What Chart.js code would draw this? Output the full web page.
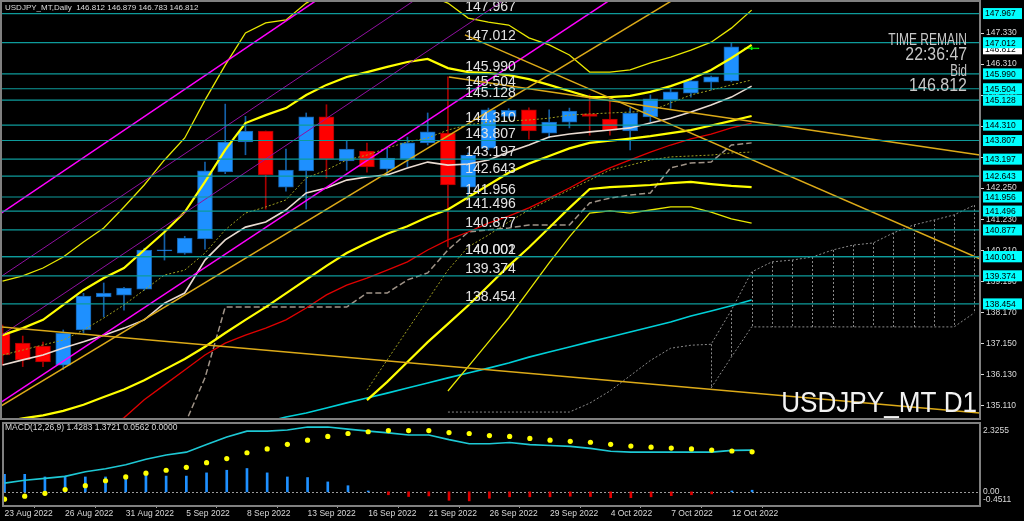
<!DOCTYPE html>
<html>
<head>
<meta charset="utf-8">
<script src="https://cdn.jsdelivr.net/npm/chart.js@4.4.0/dist/chart.umd.min.js"></script>
<style>
  html, body { margin: 0; padding: 0; background: #000; }
  #wrap { position: relative; width: 1024px; height: 521px; background: #000; overflow: hidden; }
  #main { position: absolute; left: 0; top: 0; }
  #macd { position: absolute; left: 0; top: 420px; }
</style>
</head>
<body>
<div id="wrap">
  <canvas id="main" width="1024" height="420"></canvas>
  <canvas id="macd" width="1024" height="101"></canvas>
</div>
<script>
// ---- data (bar index 0 = 23 Aug 2022, 37 = current bar) ----
const dateLabels = ['23 Aug 2022', '26 Aug 2022', '31 Aug 2022', '5 Sep 2022', '8 Sep 2022', '13 Sep 2022',
  '16 Sep 2022', '21 Sep 2022', '26 Sep 2022', '29 Sep 2022', '4 Oct 2022', '7 Oct 2022', '12 Oct 2022'];

const opens  = [137.50,137.17,137.07,136.45,137.60,138.68,138.74,138.94,140.19,140.12,140.58,142.78,143.76,144.12,142.28,142.81,144.58,143.14,143.46,142.87,143.20,143.73,144.05,142.28,143.56,144.60,144.81,144.05,144.41,144.68,144.51,144.12,144.58,145.13,145.36,145.72,145.76,146.812];
const highs  = [137.76,137.40,137.20,137.60,138.80,139.14,139.00,140.28,140.87,140.67,143.10,145.00,144.60,144.12,143.53,144.71,144.98,143.79,143.72,143.59,143.92,144.71,145.89,143.40,144.87,144.85,144.88,144.81,144.87,145.30,145.20,144.88,145.30,145.50,145.82,145.92,147.00,146.879];
const lows   = [136.45,136.40,136.40,136.30,137.50,138.03,138.25,138.90,139.89,140.08,140.25,142.72,143.34,141.56,142.15,141.56,142.58,142.83,142.77,142.68,142.94,143.66,140.32,141.96,143.50,144.55,143.85,143.89,144.22,143.98,143.98,143.50,144.42,144.86,145.23,145.46,145.73,146.783];
const closes = [136.78,136.62,136.55,137.50,138.71,138.81,138.97,140.22,140.22,140.61,142.81,143.76,144.12,142.68,142.84,144.58,143.20,143.53,142.94,143.23,143.73,144.09,142.35,143.33,144.81,144.80,144.12,144.41,144.77,144.60,144.15,144.71,145.17,145.40,145.76,145.89,146.88,146.812];

// Bollinger style bands (middle, +/-2, +/-3)
const bandUp3  = [139.20,139.37,139.63,139.99,140.48,140.94,141.63,142.35,143.17,143.89,145.13,146.28,147.33,147.66,147.76,148.31,148.67,148.74,148.80,148.74,148.67,148.57,148.31,147.82,147.69,147.59,147.17,146.94,146.61,146.05,146.05,146.12,146.35,146.54,146.77,147.03,147.49,148.08];
const bandUp2  = [137.43,137.66,137.93,138.42,138.91,139.30,139.63,140.22,140.81,141.46,142.45,143.50,144.38,144.64,144.87,145.30,145.63,145.89,146.05,146.22,146.38,146.48,146.18,146.05,146.02,145.95,145.82,145.63,145.43,145.23,145.23,145.27,145.40,145.59,145.82,146.12,146.51,146.94];
const bandMid  = [134.60,134.70,134.80,134.95,135.15,135.40,135.65,135.95,136.30,136.65,137.05,137.50,137.93,138.35,138.80,139.25,139.70,140.12,140.45,140.75,141.00,141.30,141.55,141.95,142.35,142.75,143.05,143.30,143.55,143.73,143.80,143.87,143.95,144.05,144.15,144.30,144.45,144.61];
const bandDn2  = [null,null,null,null,null,null,null,null,null,null,null,null,null,null,null,null,null,null,135.30,135.90,136.55,137.20,137.80,138.40,139.05,139.70,140.30,140.95,141.60,142.22,142.28,142.31,142.35,142.41,142.45,142.38,142.32,142.28];
const bandDn3  = [null,null,null,null,null,null,null,null,null,null,null,null,null,null,null,null,null,null,null,null,null,null,135.60,136.40,137.20,138.00,138.90,139.80,140.65,141.43,141.50,141.43,141.53,141.63,141.63,141.46,141.24,141.10];

// moving averages / ichimoku lines
const smaWhite = [136.45,136.62,136.78,137.01,137.21,137.43,137.66,137.93,138.48,138.81,139.89,140.55,140.97,141.14,141.53,142.09,142.25,142.51,142.61,142.68,142.91,143.10,143.00,143.04,143.17,143.43,143.66,143.92,144.02,144.09,144.15,144.22,144.38,144.54,144.74,144.97,145.23,145.59];
const tenkan   = [136.78,136.94,137.11,137.27,137.60,137.99,138.42,138.91,139.40,139.56,140.12,140.88,141.43,141.63,141.86,142.58,142.84,143.17,143.33,143.56,143.76,143.89,144.15,144.32,144.41,144.45,144.48,144.54,144.64,144.68,144.71,144.74,144.77,145.04,145.30,145.46,145.63,145.79];
const kijun    = [null,null,null,null,null,null,null,null,null,134.50,136.03,138.35,138.35,138.35,138.35,138.35,138.35,138.35,138.81,138.81,139.24,139.47,140.22,140.81,140.88,140.94,141.04,141.04,141.04,141.76,141.92,142.02,142.09,142.91,143.07,143.10,143.66,143.73];
const slowDots = [null,null,null,null,null,null,null,null,null,null,null,null,null,null,null,null,null,null,135.63,136.62,137.60,138.58,139.56,140.32,140.71,141.14,141.53,141.86,142.19,142.51,142.84,143.00,143.17,143.27,143.30,143.33,143.40,143.43];
const smaRed   = [null,null,null,null,null,134.40,134.72,135.31,135.80,136.29,136.78,137.17,137.43,137.66,137.93,138.32,138.75,139.07,139.30,139.56,139.83,140.22,140.55,140.81,141.10,141.33,141.60,141.92,142.25,142.61,142.91,143.17,143.43,143.66,143.86,144.02,144.22,144.38];
const smaCyan  = [null,null,null,null,null,null,null,null,null,null,null,null,null,134.58,134.75,134.88,135.04,135.21,135.37,135.53,135.70,135.86,136.03,136.19,136.35,136.52,136.71,136.88,137.04,137.21,137.37,137.53,137.70,137.86,138.06,138.22,138.39,138.58];

// cloud, shifted 11 bars past the last candle (index 0..48)
const spanA = [null,null,null,null,null,null,null,null,null,null,null,null,null,null,null,null,null,null,null,null,null,null,
  134.91,134.91,134.91,134.91,134.91,134.91,134.91,135.20,135.60,136.10,136.60,137.00,137.10,
  137.13,138.25,139.50,139.83,139.89,139.99,140.22,140.38,140.45,140.78,141.04,141.20,141.37,141.69];
const spanB = [null,null,null,null,null,null,null,null,null,null,null,null,null,null,null,null,null,null,null,null,null,null,
  null,null,null,null,null,null,null,null,null,null,null,null,null,
  135.70,136.71,137.70,137.70,137.70,137.70,137.70,137.70,137.70,137.70,137.70,137.70,137.70,138.16];

// drawn trend lines: [bar1, price1, bar2, price2]
const goldLines = [
  [-0.12, 137.70, 48.27, 134.88],
  [22.05, 145.89, 48.27, 143.33],
  [22.84, 147.27, 48.27, 139.93],
  [-0.12, 135.09, 33.11, 148.41]
];
const magentaLines = [
  [-0.12, 141.40, 15.53, 148.41],
  [-0.12, 135.21, 30.00, 148.41]
];
const purpleLines = [
  [-0.12, 139.33, 20.37, 148.41],
  [-0.12, 137.40, 24.77, 148.41]
];

// horizontal price levels
const levelPrices = [147.967, 147.012, 145.990, 145.504, 145.128, 144.310, 143.807, 143.197,
  142.643, 141.956, 141.496, 140.877, 140.002, 140.001, 139.374, 138.454];
const bidPrice = 146.812;
const priceTicks = [147.33, 146.31, 145.29, 144.27, 143.25, 142.25, 141.23, 140.21, 139.19, 138.17, 137.15, 136.13, 135.11];

// MACD(12,26,9)
const macdMain   = [0.30,0.40,0.46,0.53,0.69,0.79,0.93,1.12,1.26,1.36,1.62,1.88,2.08,2.08,2.12,2.22,2.22,2.15,2.08,2.02,1.95,1.95,1.79,1.65,1.65,1.69,1.62,1.59,1.56,1.49,1.39,1.36,1.36,1.36,1.36,1.36,1.42,1.4283];
const macdSignal = [-0.25,-0.15,-0.05,0.08,0.21,0.38,0.51,0.64,0.74,0.84,1.00,1.14,1.34,1.47,1.63,1.77,1.90,2.00,2.06,2.10,2.10,2.10,2.03,2.00,1.93,1.90,1.83,1.77,1.73,1.70,1.63,1.57,1.53,1.50,1.47,1.43,1.40,1.3721];
const macdHist   = [0.60,0.60,0.51,0.54,0.51,0.51,0.49,0.65,0.54,0.54,0.65,0.74,0.80,0.65,0.51,0.49,0.34,0.21,0.03,-0.10,-0.16,-0.14,-0.29,-0.31,-0.22,-0.17,-0.17,-0.17,-0.15,-0.16,-0.20,-0.20,-0.17,-0.13,-0.10,-0.07,0.03,0.0562];
const macdMax = 2.3255, macdMin = -0.4511;

// ---- chart setup ----
const FONT = '"Liberation Sans", Arial, sans-serif';
const X_MIN = -0.025, X_MAX = 48.28;
const Y_MIN = 134.715, Y_MAX = 148.346;

const pts = arr => arr.map((v, i) => ({ x: i, y: v }));

function line(arr, color, width, dash, order) {
    return {
        type: 'line', data: pts(arr), borderColor: color, borderWidth: width,
        borderDash: dash || [], pointRadius: 0, fill: false, tension: 0,
        spanGaps: false, order: order
    };
}

function segment(s, color, width) {
    return {
        type: 'line', data: [{ x: s[0], y: s[1] }, { x: s[2], y: s[3] }],
        borderColor: color, borderWidth: width, pointRadius: 0, fill: false, order: 2
    };
}

const candleColor = i => closes[i] > opens[i] ? '#1e90ff' : (closes[i] < opens[i] ? '#ff0000' : '#00ff00');
const candleEdge = i => closes[i] > opens[i] ? '#1460a8' : (closes[i] < opens[i] ? '#a80000' : '#00ff00');

const framePlugin = {
    id: 'frame',
    afterDraw(chart) {
        const { ctx, chartArea: a } = chart;
        ctx.save();
        ctx.strokeStyle = '#808080';
        ctx.lineWidth = 2;
        ctx.strokeRect(a.left - 1, a.top - 1, a.right - a.left + 1, a.bottom - a.top + 2);
        ctx.restore();
    }
};

const levelPlugin = {
    id: 'levels',
    afterDatasetsDraw(chart) {
        const { ctx, chartArea: a, scales: { x, y } } = chart;
        ctx.save();
        ctx.beginPath();
        ctx.rect(a.left, a.top, a.right - a.left, a.bottom - a.top);
        ctx.clip();
        ctx.strokeStyle = '#0e9b9b';
        ctx.lineWidth = 1.2;
        levelPrices.forEach(p => {
            const py = y.getPixelForValue(p);
            ctx.beginPath(); ctx.moveTo(a.left, py); ctx.lineTo(a.right, py); ctx.stroke();
        });
        // price text objects
        ctx.fillStyle = '#e2e2e2';
        ctx.font = '14px ' + FONT;
        ctx.textBaseline = 'alphabetic';
        const tx = x.getPixelForValue(22.85);
        levelPrices.forEach(p => {
            ctx.fillText(p.toFixed(3), tx, y.getPixelForValue(p) - 3);
        });
        ctx.restore();
    },
    afterDraw(chart) {
        const { ctx, scales: { y } } = chart;
        ctx.save();
        ctx.font = '8.5px ' + FONT;
        ctx.textBaseline = 'middle';
        const bx = y.left + 3, bw = 39;
        const box = (p, bg) => {
            const py = y.getPixelForValue(p);
            ctx.fillStyle = bg;
            ctx.fillRect(bx, py - 5.5, bw, 11);
            ctx.fillStyle = '#000';
            ctx.fillText(p.toFixed(3), bx + 2, py + 0.5);
        };
        box(bidPrice, '#ffffff');
        levelPrices.forEach(p => box(p, '#00ffff'));
        ctx.restore();
    }
};

const cloudPlugin = {
    id: 'cloud',
    beforeDatasetsDraw(chart) {
        const { ctx, chartArea: a, scales: { x, y } } = chart;
        ctx.save();
        ctx.beginPath();
        ctx.rect(a.left, a.top, a.right - a.left, a.bottom - a.top);
        ctx.clip();
        ctx.strokeStyle = '#8a8a8a';
        ctx.lineWidth = 1;
        ctx.setLineDash([2, 2]);
        spanA.forEach((v, i) => {
            if (v === null || spanB[i] === null) return;
            const px = Math.round(x.getPixelForValue(i)) + 0.5;
            ctx.beginPath();
            ctx.moveTo(px, y.getPixelForValue(v));
            ctx.lineTo(px, y.getPixelForValue(spanB[i]));
            ctx.stroke();
        });
        ctx.restore();
    }
};

function condensed(ctx, text, xr, yb, size, sx) {
    ctx.save();
    ctx.translate(xr, yb);
    ctx.scale(sx, 1);
    ctx.font = size + 'px ' + FONT;
    ctx.textAlign = 'right';
    ctx.fillText(text, 0, 0);
    ctx.restore();
}

const textPlugin = {
    id: 'texts',
    afterDraw(chart) {
        const ctx = chart.ctx;
        const n = opens.length - 1;
        ctx.save();
        ctx.fillStyle = '#dcdcdc';
        ctx.font = '8px ' + FONT;
        ctx.textBaseline = 'alphabetic';
        ctx.fillText('USDJPY_MT,Daily  ' + [opens[n], highs[n], lows[n], closes[n]].map(v => v.toFixed(3)).join(' '), 5, 10);
        ctx.fillStyle = '#c8c8c8';
        condensed(ctx, 'TIME REMAIN', 967, 45, 16, 0.75);
        condensed(ctx, '22:36:47', 967, 60, 18, 0.88);
        condensed(ctx, 'Bid', 967, 76, 16, 0.72);
        condensed(ctx, bidPrice.toFixed(3), 967, 91, 18, 0.89);
        ctx.fillStyle = '#f2f2f2';
        condensed(ctx, 'USDJPY_MT D1', 977, 412, 30, 0.87);
        ctx.restore();
    }
};

const mainDatasets = [
    // candles
    {
        type: 'bar', data: highs.map((h, i) => ({ x: i, y: [lows[i], h] })),
        backgroundColor: highs.map((h, i) => candleEdge(i)), barThickness: 1,
        grouped: false, order: 21
    },
    {
        type: 'bar', data: opens.map((o, i) => ({ x: i, y: [o, closes[i]] })),
        backgroundColor: opens.map((o, i) => candleColor(i)),
        borderColor: opens.map((o, i) => candleEdge(i)), borderWidth: 1, borderSkipped: false,
        barThickness: 15, minBarLength: 1, grouped: false, order: 20
    },
    // indicators
    line(smaCyan, '#00d0d8', 1.6, null, 12),
    line(spanA, '#8a8a8a', 1, [2, 2], 12),
    line(spanB, '#8a8a8a', 1, [2, 2], 12),
    line(kijun, '#a09488', 1.5, [6, 3], 11),
    line(slowDots, '#a0a020', 1, [2, 2], 11),
    line(tenkan, '#a0a020', 1, [2, 2], 11),
    line(smaRed, '#e00000', 1.3, null, 10),
    line(smaWhite, '#eadcd2', 1.6, null, 9),
    line(bandMid, '#ffff00', 2.2, null, 8),
    line(bandUp2, '#ffff00', 2.2, null, 8),
    line(bandDn2, '#ffff00', 2.2, null, 8),
    line(bandUp3, '#e8e800', 1.3, null, 8),
    line(bandDn3, '#e8e800', 1.3, null, 8),
    ...goldLines.map(s => segment(s, '#dcaa18', 1.5)),
    ...magentaLines.map(s => segment(s, '#ff00ff', 1.5)),
    ...purpleLines.map(s => segment(s, '#9010a0', 1))
];

new Chart(document.getElementById('main'), {
    type: 'bar',
    data: { datasets: mainDatasets },
    options: {
        responsive: false,
        animation: false,
        layout: { padding: { left: 2, top: 2, right: 0, bottom: 2 } },
        plugins: { legend: { display: false }, tooltip: { enabled: false } },
        scales: {
            x: { type: 'linear', min: X_MIN, max: X_MAX, offset: false, display: false },
            y: {
                position: 'right', min: Y_MIN, max: Y_MAX,
                afterBuildTicks: s => { s.ticks = priceTicks.map(v => ({ value: v })); },
                afterFit: s => { s.width = 44; s.paddingTop = 0; s.paddingBottom = 0; },
                ticks: { color: '#d8d8d8', padding: 2, font: { family: FONT, size: 8.5 }, callback: v => v.toFixed(3) },
                grid: { drawOnChartArea: false, drawTicks: true, tickLength: 4, color: '#d8d8d8' },
                border: { color: '#808080', width: 1 }
            }
        }
    },
    plugins: [cloudPlugin, levelPlugin, framePlugin, textPlugin]
});

// ---- MACD panel ----
const macdPlugin = {
    id: 'macdExtras',
    beforeDatasetsDraw(chart) {
        const { ctx, chartArea: a, scales: { y } } = chart;
        ctx.save();
        ctx.strokeStyle = '#9a9a9a';
        ctx.lineWidth = 1;
        ctx.setLineDash([2, 2]);
        const py = Math.round(y.getPixelForValue(0)) + 0.5;
        ctx.beginPath(); ctx.moveTo(a.left, py); ctx.lineTo(a.right, py); ctx.stroke();
        ctx.restore();
    },
    afterDraw(chart) {
        const { ctx, scales: { y } } = chart;
        ctx.save();
        ctx.fillStyle = '#d8d8d8';
        ctx.font = '8.5px ' + FONT;
        ctx.textBaseline = 'alphabetic';
        const n = macdMain.length - 1;
        ctx.fillText('MACD(12,26,9) ' + macdMain[n].toFixed(4) + ' ' + macdSignal[n].toFixed(4) + ' ' +
            macdHist[n].toFixed(4) + ' 0.0000', 5, 10);
        const lx = y.left + 3;
        ctx.textBaseline = 'top';
        ctx.fillText(macdMax.toFixed(4), lx, y.getPixelForValue(macdMax) + 2);
        ctx.textBaseline = 'middle';
        ctx.fillText('0.00', lx, y.getPixelForValue(0));
        ctx.textBaseline = 'bottom';
        ctx.fillText(macdMin.toFixed(4), lx, y.getPixelForValue(macdMin) - 1);
        ctx.restore();
    }
};

new Chart(document.getElementById('macd'), {
    type: 'bar',
    data: {
        datasets: [
            {
                type: 'bar', data: pts(macdHist), barThickness: 2, grouped: false,
                backgroundColor: macdHist.map(v => v >= 0 ? '#1e90ff' : '#e00000'), order: 3
            },
            {
                type: 'line', data: pts(macdMain), borderColor: '#1ec8d4', borderWidth: 1.6,
                pointRadius: 0, fill: false, tension: 0, order: 2
            },
            {
                type: 'line', data: pts(macdSignal), showLine: false, pointRadius: 2.6,
                pointBackgroundColor: '#ffff00', pointBorderWidth: 0, order: 1
            }
        ]
    },
    options: {
        responsive: false,
        animation: false,
        layout: { padding: { left: 2, top: 1, right: 0, bottom: 0 } },
        plugins: { legend: { display: false }, tooltip: { enabled: false } },
        scales: {
            x: {
                type: 'linear', min: X_MIN, max: X_MAX, offset: false,
                afterBuildTicks: s => { s.ticks = dateLabels.map((d, k) => ({ value: k * 3 })); },
                afterFit: s => { s.height = 16; s.paddingLeft = 0; s.paddingRight = 0; },
                ticks: {
                    color: '#d8d8d8', align: 'start', maxRotation: 0, autoSkip: false, padding: 1,
                    font: { family: FONT, size: 8.5 }, callback: v => dateLabels[Math.round(v / 3)]
                },
                grid: { drawOnChartArea: false, drawTicks: true, tickLength: 3, color: '#a0a0a0' },
                border: { color: '#808080', width: 1 }
            },
            y: {
                position: 'right', min: macdMin, max: macdMax,
                afterFit: s => { s.width = 44; s.paddingTop = 0; s.paddingBottom = 0; },
                ticks: { display: false },
                grid: { display: false },
                border: { color: '#808080', width: 1 }
            }
        }
    },
    plugins: [macdPlugin, framePlugin]
});
</script>
</body>
</html>
